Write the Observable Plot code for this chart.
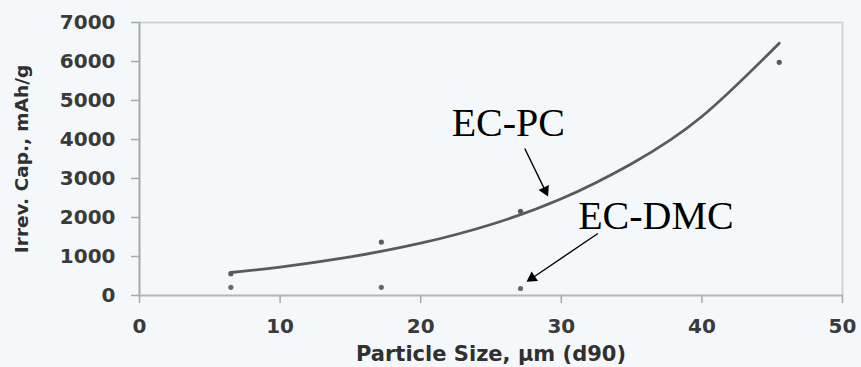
<!DOCTYPE html>
<html>
<head>
<meta charset="utf-8">
<script src="https://cdn.jsdelivr.net/npm/d3@7"></script>
<script src="https://cdn.jsdelivr.net/npm/@observablehq/plot@0.6"></script>
<style>
  html, body { margin: 0; padding: 0; background: #f5f8fa; }
  #chart svg { display: block; background: #f5f8fa; }
</style>
</head>
<body>
<div id="chart"></div>
<script>
// Tick values
const xTicks = [0, 10, 20, 30, 40, 50];
const yTicks = [0, 1000, 2000, 3000, 4000, 5000, 6000, 7000];

// EC-PC measured points
const pcSize = [6.5, 17.2, 27.1, 45.5];
const pcCap = [560, 1370, 2160, 5980];

// EC-DMC measured points
const dmcSize = [6.5, 17.2, 27.1];
const dmcCap = [210, 210, 180];

// EC-PC trend line
const fitSize = [6.5, 10, 15, 20, 25, 30, 35, 40, 45.5];
const fitCap = [590, 730, 990, 1340, 1820, 2480, 3380, 4590, 6470];

// Labels
const xLabel = "Particle Size, \u00b5m (d90)";
const yLabel = "Irrev. Cap., mAh/g";
const annoText = ["EC-PC", "EC-DMC"];
const annoX = [22.2, 31.2];
const annoY = [4420, 2040];
// Arrow start / tip (data coordinates)
const arrX1 = [27.4, 32.6];
const arrY1 = [3770, 1590];
const arrX2 = [29.1, 27.45];
const arrY2 = [2510, 330];

const W = 861, H = 367;
const mL = 139, mR = 19, mT = 22, mB = 72;
const xDom = [0, 50], yDom = [0, 7000];
const kx = (W - mL - mR) / (xDom[1] - xDom[0]);
const ky = (H - mT - mB) / (yDom[1] - yDom[0]);

const pc = pcSize.map((x, i) => ({x, y: pcCap[i]}));
const dmc = dmcSize.map((x, i) => ({x, y: dmcCap[i]}));
const fit = fitSize.map((x, i) => ({x, y: fitCap[i]}));
const anno = annoText.map((t, i) => ({t, x: annoX[i], y: annoY[i]}));
const arrows = arrX1.map((x1, i) => {
  const x2 = arrX2[i], y1 = arrY1[i], y2 = arrY2[i];
  const px = (x2 - x1) * kx, py = -(y2 - y1) * ky; // pixel direction (screen y down)
  const len = Math.hypot(px, py);
  const ux = px / len, uy = py / len;
  const back = 8;
  const rot = Math.atan2(ux, -uy) * 180 / Math.PI;
  return {x1, y1, x2, y2,
    hx: x2 - ux * back / kx, hy: y2 + uy * back / ky, rot,
    sx2: x2 - ux * 10 / kx, sy2: y2 + uy * 10 / ky};
});

const tickFont = "DejaVu Sans, sans-serif";

const chart = Plot.plot({
  width: W, height: H,
  marginLeft: mL, marginRight: mR, marginTop: mT, marginBottom: mB,
  style: {background: "#f5f8fa", fontFamily: tickFont},
  x: {domain: xDom, ticks: xTicks, label: null},
  y: {domain: yDom, ticks: yTicks, label: null},
  marks: [
    // frame top & right (light)
    Plot.ruleY([yDom[1]], {stroke: "#d2d4d6", strokeWidth: 2.2}),
    Plot.ruleX([xDom[1]], {stroke: "#d2d4d6", strokeWidth: 2.2}),
    // axis lines
    Plot.ruleX([xDom[0]], {stroke: "#a6a8aa", strokeWidth: 2}),
    Plot.ruleY([yDom[0]], {stroke: "#b4b6b8", strokeWidth: 2.2}),
    Plot.axisY({ticks: yTicks, tickSize: 8, tickPadding: 16, stroke: "#a6a8aa", strokeWidth: 1.5,
      fill: "#3a3a3a", fontSize: 20, fontWeight: "bold", fontFamily: tickFont, label: null, tickFormat: d => String(d)}),
    Plot.axisX({ticks: xTicks, tickSize: 8, tickPadding: 15, stroke: "#a6a8aa", strokeWidth: 1.5,
      fill: "#3a3a3a", fontSize: 20, fontWeight: "bold", fontFamily: tickFont, label: null, tickFormat: d => String(d)}),
    Plot.text([xLabel], {frameAnchor: "bottom", textAnchor: "middle", dy: 65, fontSize: 21, fontWeight: "bold",
      fontFamily: tickFont, fill: "#303030"}),
    Plot.text([yLabel], {frameAnchor: "left", textAnchor: "middle", dx: -117, rotate: -90, fontSize: 18.5, fontWeight: "bold",
      fontFamily: tickFont, fill: "#303030"}),
    // trend line
    Plot.line(fit, {x: "x", y: "y", curve: "natural", stroke: "#5a5a5c", strokeWidth: 2.8}),
    // points
    Plot.dot(pc, {x: "x", y: "y", r: 2.6, fill: "#5a5a5c"}),
    Plot.dot(dmc, {x: "x", y: "y", r: 2.6, fill: "#6a6a6c"}),
    // annotations
    Plot.text(anno, {x: "x", y: "y", text: "t", textAnchor: "start", fontFamily: "Liberation Serif, Times New Roman, serif",
      fontSize: 40, fill: "#000"}),
    Plot.link(arrows, {x1: "x1", y1: "y1", x2: "sx2", y2: "sy2", stroke: "#000", strokeWidth: 1.4}),
    Plot.dot(arrows, {x: "hx", y: "hy", rotate: "rot", symbol: "triangle2", r: 5.5, fill: "#000", stroke: "none"})
  ]
});
document.getElementById("chart").appendChild(chart);
</script>
</body>
</html>
